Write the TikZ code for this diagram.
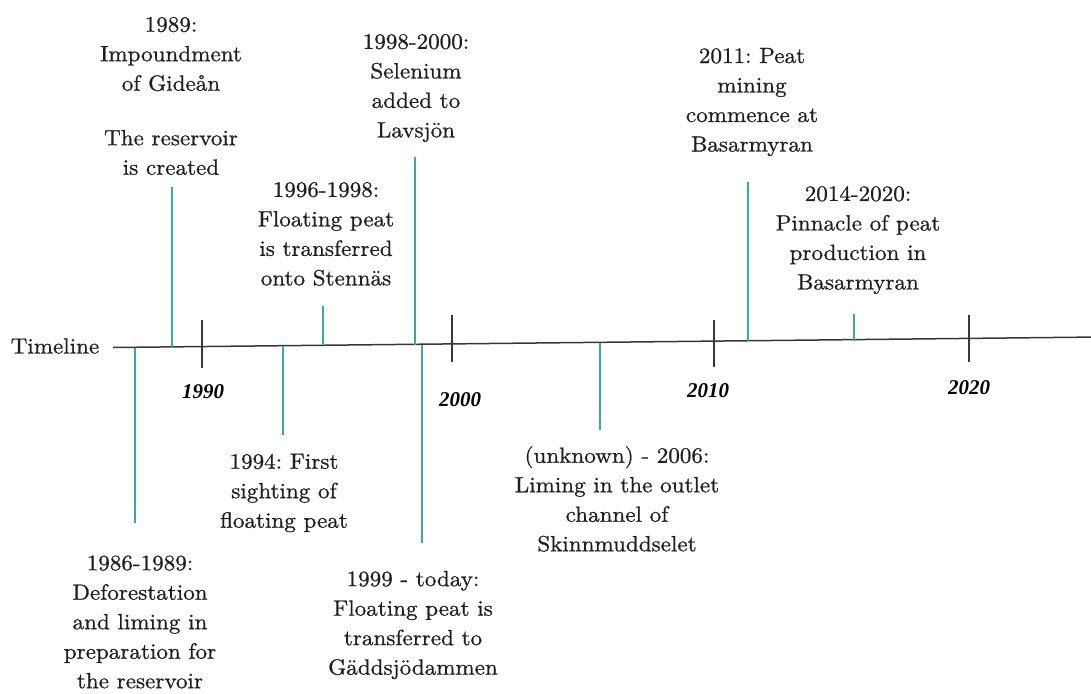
\documentclass[tikz,border=0pt]{standalone}
\usepackage{fontspec}
\setmainfont{lmroman10-regular.otf}[FakeStretch=1.05,FakeBold=0.8]
\newfontfamily\yearfont{Liberation Serif}
\usetikzlibrary{arrows.meta}
\definecolor{tealline}{RGB}{60,168,168}
\definecolor{axisgray}{RGB}{55,55,55}
\tikzset{
  ev/.style={align=center, inner sep=0pt, font=\frenchspacing\fontsize{22}{29.5}\selectfont, text=black!88},
  yr/.style={inner sep=0pt, font=\yearfont\fontsize{21}{24}\selectfont\bfseries\itshape},
  stem/.style={draw=tealline, line width=1.5pt},
  tick/.style={draw=axisgray, line width=1.2pt},
  axis/.style={draw=axisgray, line width=1.5pt}
}
\begin{document}
\begin{tikzpicture}[x=1pt,y=-1pt]
\useasboundingbox (0,0) rectangle (1091,693);
% timeline
\node[ev] (tl) at (55,346) {Timeline};
\coordinate (ts) at (113,347.5);
\coordinate (te) at (1100,337);
\draw[axis,-{Stealth[length=9pt,width=8pt]}] (ts) -- (te);
% ticks
\coordinate (t90a) at (202,320); \coordinate (t90b) at (202,368);
\coordinate (t00a) at (452,315); \coordinate (t00b) at (452,362);
\coordinate (t10a) at (714,320); \coordinate (t10b) at (714,367);
\coordinate (t20a) at (969,315); \coordinate (t20b) at (969,362);
\draw[tick] (t90a) -- (t90b);
\draw[tick] (t00a) -- (t00b);
\draw[tick] (t10a) -- (t10b);
\draw[tick] (t20a) -- (t20b);
\node[yr] (y1990) at (203,392) {1990};
\node[yr] (y2000) at (460,400) {2000};
\node[yr] (y2010) at (708,391) {2010};
\node[yr] (y2020) at (969,388) {2020};
% events above
\node[ev] (e1989) at (171,96) {1989:\\Impoundment\\of Gideån\\[25pt]The reservoir\\is created};
\node[ev] (e1998) at (416,88) {1998-2000:\\Selenium\\added to\\Lavsjön};
\node[ev] (e1996) at (326,234) {1996-1998:\\Floating peat\\is transferred\\onto Stennäs};
\node[ev] (e2011) at (752,102) {2011: Peat\\mining\\commence at\\Basarmyran};
\node[ev] (e2014) at (858,240) {2014-2020:\\Pinnacle of peat\\production in\\Basarmyran};
% events below
\node[ev] (e1994) at (284,493) {1994: First\\sighting of\\floating peat};
\node[ev] (e1986) at (140,622) {1986-1989:\\Deforestation\\and liming in\\preparation for\\the reservoir};
\node[ev] (e1999) at (413,625) {1999 - today:\\Floating peat is\\transferred to\\Gäddsjödammen};
\node[ev] (eunk) at (617,499) {(unknown) - 2006:\\Liming in the outlet\\channel of\\Skinnmuddselet};
% stems
\coordinate (s1989a) at (172,187); \coordinate (s1989b) at (172,346.5);
\coordinate (s1986a) at (135,347.5); \coordinate (s1986b) at (135,523);
\coordinate (s1994a) at (283,346); \coordinate (s1994b) at (283,435);
\coordinate (s1996a) at (323,306); \coordinate (s1996b) at (323,345);
\coordinate (s1998a) at (415,157); \coordinate (s1998b) at (415,345);
\coordinate (s1999a) at (422,345); \coordinate (s1999b) at (422,543);
\coordinate (sunka) at (600,343); \coordinate (sunkb) at (600,430);
\coordinate (s2011a) at (748,182); \coordinate (s2011b) at (748,341);
\coordinate (s2014a) at (854,314); \coordinate (s2014b) at (854,341);
\draw[stem] (s1989a) -- (s1989b);
\draw[stem] (s1986a) -- (s1986b);
\draw[stem] (s1994a) -- (s1994b);
\draw[stem] (s1996a) -- (s1996b);
\draw[stem] (s1998a) -- (s1998b);
\draw[stem] (s1999a) -- (s1999b);
\draw[stem] (sunka) -- (sunkb);
\draw[stem] (s2011a) -- (s2011b);
\draw[stem] (s2014a) -- (s2014b);
\end{tikzpicture}
\end{document}
